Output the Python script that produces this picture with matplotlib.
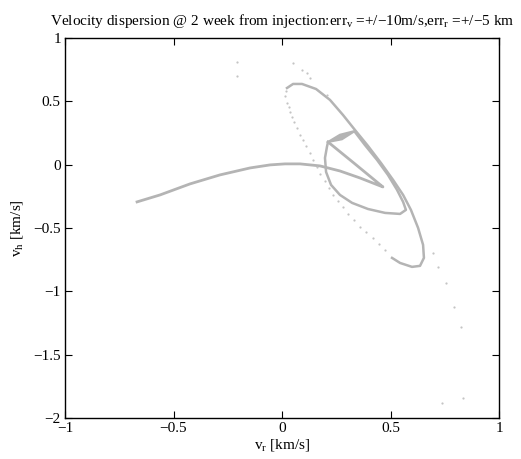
import matplotlib
matplotlib.use("Agg")
import matplotlib.pyplot as plt

matplotlib.rcParams['font.family'] = 'Liberation Serif'
matplotlib.rcParams['mathtext.fontset'] = 'custom'
matplotlib.rcParams['mathtext.rm'] = 'Liberation Serif'
matplotlib.rcParams['mathtext.it'] = 'Liberation Serif:italic'
matplotlib.rcParams['font.size'] = 11

# tail of the swarm, up to the cusp and back to the lens corner
tail_vr = [-0.668, -0.562, -0.424, -0.286, -0.147, -0.055, 0.014, 0.083, 0.175,
           0.267, 0.359, 0.429, 0.465, 0.336, 0.212]
tail_vh = [-0.294, -0.239, -0.152, -0.081, -0.026, -0.002, 0.006, 0.006, -0.010,
           -0.050, -0.105, -0.152, -0.176, 0.006, 0.179]

# thick lens between the two loops
lens_vr = [0.212, 0.267, 0.336, 0.276]
lens_vh = [0.179, 0.236, 0.266, 0.200]

# inner loop
inner_vr = [0.336, 0.382, 0.438, 0.488, 0.530, 0.558, 0.571, 0.544, 0.475, 0.396,
            0.323, 0.267, 0.226, 0.203, 0.198, 0.207, 0.212]
inner_vh = [0.258, 0.155, 0.037, -0.081, -0.199, -0.294, -0.357, -0.389, -0.381, -0.350,
            -0.302, -0.239, -0.160, -0.058, 0.053, 0.140, 0.179]

# dense part of the outer loop
outer_vr = [0.023, 0.051, 0.092, 0.157, 0.221, 0.281, 0.336, 0.396, 0.456, 0.512,
            0.558, 0.594, 0.627, 0.650, 0.654, 0.636, 0.599, 0.544, 0.507]
outer_vh = [0.605, 0.637, 0.637, 0.597, 0.511, 0.392, 0.274, 0.148, 0.013, -0.121,
            -0.239, -0.357, -0.499, -0.633, -0.736, -0.799, -0.807, -0.776, -0.736]

# sparse particles
sparse_vr = [0.475, 0.447, 0.419, 0.389, 0.359, 0.331, 0.304, 0.281, 0.258, 0.237,
             0.217, 0.196, 0.175, 0.159, 0.143, 0.127, 0.111, 0.097, 0.083,
             0.069, 0.055, 0.046, 0.037, 0.030, 0.023, 0.014, 0.018,
             0.051, 0.092, 0.115, 0.129, 0.207,
             0.696, 0.719, 0.756, 0.793, 0.825, 0.834, 0.737,
             -0.207, -0.207]
sparse_vh = [-0.675, -0.627, -0.578, -0.535, -0.491, -0.440, -0.389, -0.338, -0.287, -0.236,
             -0.184, -0.128, -0.073, -0.018, 0.037, 0.093, 0.148, 0.191, 0.234,
             0.286, 0.337, 0.377, 0.416, 0.452, 0.487, 0.542, 0.582,
             0.803, 0.747, 0.724, 0.684, 0.552,
             -0.696, -0.807, -0.933, -1.123, -1.281, -1.842, -1.881,
             0.811, 0.700]

gray = '#b4b4b4'

fig = plt.figure(figsize=(5.21, 4.59), dpi=100)
ax = fig.add_axes([0.1248, 0.0893, 0.833, 0.828])

ax.plot(tail_vr, tail_vh, '-', color=gray, lw=2.0, solid_joinstyle='round')
ax.fill(lens_vr, lens_vh, color=gray, lw=1.5, ec=gray)
ax.plot(inner_vr, inner_vh, '-', color=gray, lw=1.8, solid_joinstyle='round')
ax.plot(outer_vr, outer_vh, '-', color=gray, lw=1.8, solid_joinstyle='round')
ax.plot(sparse_vr, sparse_vh, 'o', color='#c4c4c4', ms=1.6, mew=0)

ax.set_xlim(-1, 1)
ax.set_ylim(-2, 1)
ax.set_xticks([-1, -0.5, 0, 0.5, 1])
ax.set_xticklabels(['\u22121', '\u22120.5', '0', '0.5', '1'])
ax.set_yticks([-2, -1.5, -1, -0.5, 0, 0.5, 1])
ax.set_yticklabels(['\u22122', '\u22121.5', '\u22121', '\u22120.5', '0', '0.5', '1'])
ax.tick_params(direction='in', top=True, right=True, length=5, width=0.8,
               labelsize=11, pad=3)
for s in ax.spines.values():
    s.set_linewidth(1.0)

ax.set_xlabel(r'v$_\mathrm{r}$ [km/s]', fontsize=11, labelpad=1)
ax.set_ylabel(r'v$_\mathrm{h}$ [km/s]', fontsize=11, labelpad=6)
title = ('Velocity dispersion @ 2 week from injection:err$_\\mathrm{v}$ =+/\u221210m/s,'
         'err$_\\mathrm{r}$ =+/\u22125 km')
ax.set_title(title, fontsize=11.0, pad=9)

fig.savefig('out.png', dpi=100)
